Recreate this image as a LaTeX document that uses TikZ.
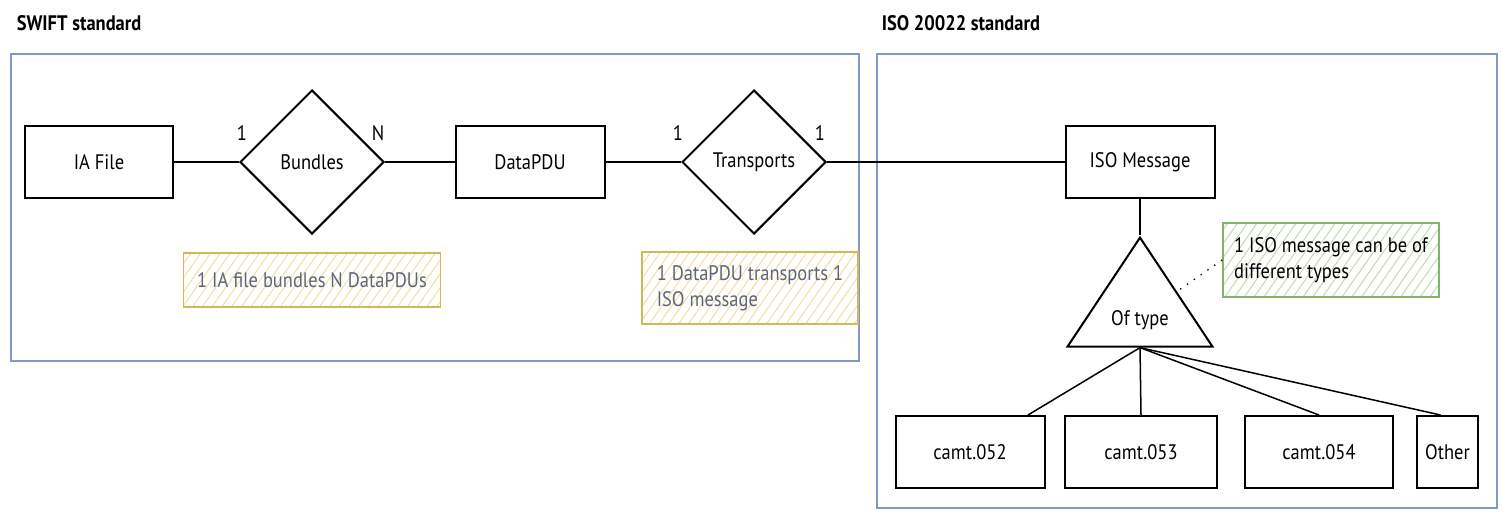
\documentclass[tikz,border=0pt]{standalone}
\usepackage{fontspec}
\setmainfont{PT Sans}[FakeStretch=0.88]
\usepackage{tikz}
\usetikzlibrary{shapes.geometric,patterns.meta}
\definecolor{frameblue}{HTML}{7F9AC8}
\definecolor{noteyellow}{HTML}{D6B656}
\definecolor{hatchyellow}{HTML}{EFDC9C}
\definecolor{notegreen}{HTML}{82B366}
\definecolor{hatchgreen}{HTML}{B5DBA4}
\definecolor{notetext}{HTML}{5E6675}

\begin{document}
\begin{tikzpicture}[x=1pt,y=-1pt,line width=1.5pt,
  font=\fontsize{21}{26}\selectfont,
  entity/.style={draw,rectangle,line width=2pt,minimum height=72pt,inner sep=0pt},
  relation/.style={draw,diamond,line width=2pt,minimum width=144pt,minimum height=144pt,inner sep=0pt},
  card/.style={inner sep=0pt},
  frame/.style={draw=frameblue,line width=1.4pt},
  title/.style={anchor=west,inner sep=0pt,font=\fontsize{21}{25}\selectfont\bfseries},
  note/.style={rectangle,line width=1.8pt,align=left,inner sep=0pt},
  yellownote/.style={note,draw=noteyellow,text=notetext,
    pattern={Lines[angle=55,distance=8pt,line width=0.9pt]},pattern color=hatchyellow},
  greennote/.style={note,draw=notegreen,
    pattern={Lines[angle=55,distance=8pt,line width=0.9pt]},pattern color=hatchgreen}]
\useasboundingbox (0,0) rectangle (1503,512);

% frames
\node[title] (swifttitle) at (16,23) {SWIFT standard};
\node[title] (isotitle) at (881,23) {ISO 20022 standard};
\draw[frame] (11,54) rectangle (859,361);
\draw[frame] (877,54) rectangle (1497,508);

% SWIFT side
\node[entity,minimum width=148pt] (iafile) at (99,162) {IA File};
\node[relation] (bundles) at (312,162) {Bundles};
\node[entity,minimum width=149pt] (datapdu) at (530,162) {DataPDU};
\node[relation] (transports) at (754,162) {Transports};

\node[card] (c1) at (242,133) {1};
\node[card] (cn) at (378,133) {N};
\node[card] (c2) at (678,133) {1};
\node[card] (c3) at (820,133) {1};

\node[yellownote,minimum width=257pt,minimum height=54pt] (bundlenote) at (312,280)
  {1 IA file bundles N DataPDUs};
\node[yellownote,minimum width=216pt,minimum height=72pt] (transportnote) at (750,288)
  {1 DataPDU transports 1\\ISO message};

% ISO side
\node[entity,minimum width=149pt] (isomsg) at (1140,162) {ISO Message};
\node[draw,isosceles triangle,isosceles triangle stretches,shape border rotate=90,
  line width=2pt,minimum width=145pt,minimum height=109pt,inner sep=0pt,anchor=apex]
  (oftype) at (1140,235) {Of type};
\node[greennote,minimum width=216pt,minimum height=74pt] (typenote) at (1331,260)
  {1 ISO message can be of\\different types};

\node[entity,minimum width=149pt] (camt052) at (970,452) {camt.052};
\node[entity,minimum width=152pt] (camt053) at (1141,452) {camt.053};
\node[entity,minimum width=148pt] (camt054) at (1319,452) {camt.054};
\node[entity,minimum width=61pt] (other) at (1447.5,452) {Other};

% connectors
\draw (iafile.east) -- (bundles.west);
\draw (bundles.east) -- (datapdu.west);
\draw (datapdu.east) -- (transports.west);
\draw (transports.east) -- (isomsg.west);
\draw (isomsg.south) -- (oftype.apex);
\draw (oftype.lower side) -- ([xshift=58pt]camt052.north);
\draw (oftype.lower side) -- (camt053.north);
\draw (oftype.lower side) -- (camt054.north);
\draw (oftype.lower side) -- ([xshift=-7pt]other.north);
\draw[line width=1.3pt,dash pattern=on 1.3pt off 7pt] (typenote.west) -- (oftype.right side);
\end{tikzpicture}
\end{document}
